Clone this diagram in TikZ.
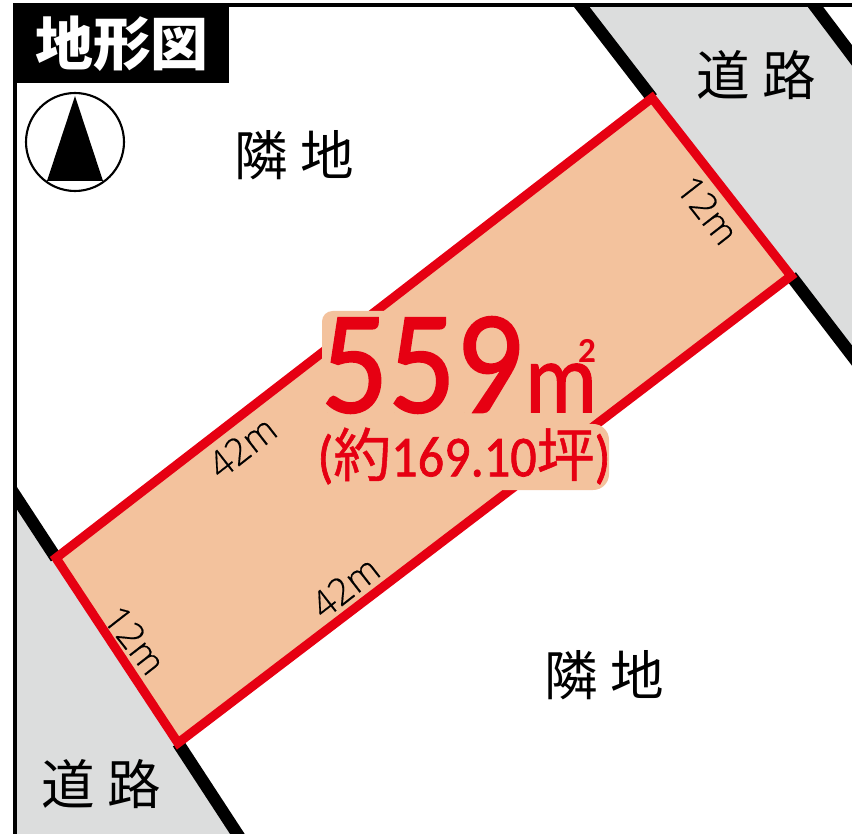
\documentclass[tikz,border=0pt]{standalone}
\usepackage{fontspec}
\setmainfont[FakeBold=0.4]{Open Sans Light}
\newfontfamily\cjk{Noto Sans CJK JP}
\newfontfamily\cjkarea[FakeBold=0.8]{Noto Sans CJK JP}
\newfontfamily\areafont[FakeBold=1.2,FakeStretch=0.9]{Carlito}
\newfontfamily\sqfont{Carlito}
\usepackage{tikz}
\definecolor{lotred}{HTML}{E60012}
\definecolor{lotfill}{HTML}{F3C29D}
\definecolor{roadgray}{HTML}{DCDDDD}
\tikzset{
  wall/.style={line width=7pt},
  frame/.style={line width=2pt},
  place/.style={font=\cjk\fontsize{30.5}{30.5}\selectfont},
  side/.style={font=\fontsize{21}{21}\selectfont},
  arealabel/.style={text=lotred, inner sep=0},
}
\begin{document}
\begin{tikzpicture}[x=0.02cm, y=-0.02cm]
            \useasboundingbox (0,0) rectangle (852,834);
            % lot corners
            \coordinate (c1) at (652,98);
            \coordinate (c2) at (791,276);
            \coordinate (c3) at (178,743);
            \coordinate (c4) at (56,558);
            % road ends
            \coordinate (r1) at (571,-7);
            \coordinate (r2) at (805,-7);
            \coordinate (r3) at (860,66);
            \coordinate (r4) at (860,366);
            \coordinate (r5) at (5,480);
            \coordinate (r6) at (240,838);
            \coordinate (f1) at (15,5);
            \coordinate (f2) at (852,5);
            \coordinate (f3) at (15,834);
            % roads
            \begin{scope}
                \clip (f1) rectangle (852,834);
                \fill[roadgray] (r1) -- (r2) -- (r3) -- (r4) -- (c2) -- (c1) -- cycle;
                \fill[roadgray] (r5) -- (c4) -- (c3) -- (r6) -- (f3) -- cycle;
                \draw[wall] (r1) -- (c1);
                \draw[wall] (r2) -- (r3);
                \draw[wall] (c2) -- (r4);
                \draw[wall] (r5) -- (c4);
                \draw[wall] (c3) -- (r6);
            \end{scope}
            \draw[frame] (f3) -- (f1) -- (f2);
            % lot
            \draw[lotred, fill=lotfill, line width=5.2pt, line join=miter] (c1) -- (c2) -- (c3) -- (c4) -- cycle;
            % title and north mark
            \node[fill=black, text=white, minimum width=214*0.02cm, minimum height=79*0.02cm, inner sep=0, font=\cjk\bfseries\fontsize{33}{33}\selectfont] (title) at (122,44) {地形図};
            \node[draw, circle, line width=1.2pt, minimum size=98*0.02cm, inner sep=0] (north) at (75,142) {};
            \coordinate (n1) at (75,96);
            \coordinate (n2) at (47,181);
            \coordinate (n3) at (103,181);
            \fill (n1) -- (n2) -- (n3) -- cycle;
            % neighbours and roads
            \node[place] (lot1) at (294,155) {隣 地};
            \node[place] (lot2) at (604,675) {隣 地};
            \node[place] (road1) at (756,75) {道 路};
            \node[place] (road2) at (101,784) {道 路};
            % side lengths
            \node[side, rotate=38] (len1) at (242,447) {42m};
            \node[side, rotate=38] (len2) at (345,587) {42m};
            \node[side, rotate=-52] (len3) at (708,210) {12m};
            \node[side, rotate=-52] (len4) at (135,640) {12m};
            % area
            \node[fill=lotfill, rounded corners=6pt, minimum width=208*0.02cm, minimum height=106*0.02cm, inner sep=0] (back1) at (426,364) {};
            \node[fill=lotfill, rounded corners=9pt, minimum width=292*0.02cm, minimum height=66*0.02cm, inner sep=0] (back2) at (463,457) {};
            \node[arealabel, font=\areafont\fontsize{84}{84}\selectfont] (area) at (422,365) {559};
            \node[arealabel, font=\areafont\fontsize{57}{57}\selectfont] (unit) at (561,388) {m};
            \node[arealabel, font=\sqfont\bfseries\fontsize{20}{20}\selectfont] (sq) at (587,351) {2};
            \node[arealabel, font=\areafont\fontsize{33}{33}\selectfont] (tsubo) at (464,456) {({\cjkarea 約}169.10{\cjkarea 坪})};
\end{tikzpicture}
\end{document}
